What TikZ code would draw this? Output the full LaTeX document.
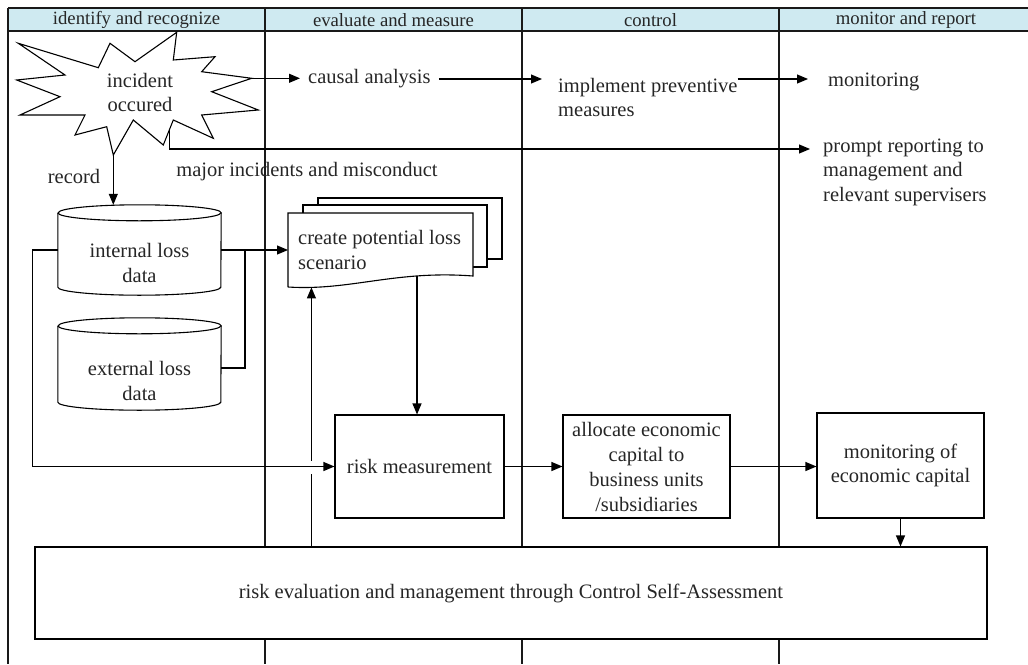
\documentclass[tikz,border=0pt]{standalone}
\usepackage{fontspec}
\setmainfont{Liberation Serif}
\usetikzlibrary{arrows.meta}
\definecolor{hdr}{HTML}{CFEAF1}
\definecolor{txtc}{HTML}{262626}
\begin{document}
\begin{tikzpicture}[x=1pt,y=-1pt,
  lane/.style={line width=1.7pt, black!90},
  box/.style={draw, line width=1.1pt, fill=white},
  arr/.style={line width=1.1pt, -{Triangle[length=11pt,width=9pt]}},
  ln/.style={line width=1.1pt},
  txt/.style={font=\fontsize{20.5}{24.5}\selectfont, text=txtc},
  hd/.style={font=\fontsize{18.7}{22}\selectfont, text=txtc}]
\useasboundingbox (0,0) rectangle (1028,664);
% header
\fill[hdr] (8,8) rectangle (1028,31);
\draw[lane] (8,8) -- (1028,8) (8,31) -- (1028,31);
\draw[lane] (8,8) -- (8,664) (265,8) -- (265,664) (522,8) -- (522,664) (779,8) -- (779,664);
\node[hd] (h1) at (136.5,20) {identify and recognize};
\node[hd] (h2) at (393.5,20) {evaluate and measure};
\node[hd] (h3) at (650.5,20) {control};
\node[hd] (h4) at (906,20) {monitor and report};
% bottom box
\node[box, txt, minimum width=952pt, minimum height=92pt] (csa) at (511,593) {risk evaluation and management through Control Self-Assessment};
% star
\draw[ln, fill=white] (18.3,43.3) -- (98.3,67.7) -- (110,43.3) -- (135,61.7) -- (176.7,32.3) -- (173.3,60) -- (215,56.7) -- (201.7,71.7) -- (251.7,78.3) -- (211.7,91.7) -- (258.3,110) -- (201.7,115) -- (213.3,138.3) -- (173.3,120) -- (163.3,145) -- (133.3,120) -- (113.3,155) -- (106.7,126.7) -- (75,135) -- (85,115) -- (20,115) -- (60,96.7) -- (16.7,80) -- (65,75) -- cycle;
\node[txt, align=center] (inc) at (140,92.5) {incident\\occured};
\coordinate (starR) at (251.7,78.3);
\coordinate (starB) at (113.3,155);
\coordinate (starC) at (169.3,130);
% top row texts
\node[txt, anchor=west, inner xsep=8pt] (ca) at (300,79) {causal analysis};
\node[txt, anchor=west, align=left, inner xsep=16pt] (ipm) at (542,97.5) {implement preventive\\measures};
\node[txt, anchor=west, inner xsep=20pt] (mon) at (808,82) {monitoring};
\node[txt, anchor=west, align=left, inner xsep=13pt] (prm) at (810,172) {prompt reporting to\\management and\\relevant supervisers};
\node[txt] (rec) at (74,176) {record};
\node[txt] (maj) at (307,172) {major incidents and misconduct};
% cylinders
\node[minimum width=163pt, minimum height=90pt, inner sep=0pt] (int) at (139.5,250) {};
\draw[ln, fill=white] ([yshift=-8pt]int.north west) -- ([yshift=8pt]int.south west)
  arc[start angle=180, end angle=360, x radius=81.5pt, y radius=8pt]
  -- ([yshift=-8pt]int.north east)
  arc[start angle=0, end angle=180, x radius=81.5pt, y radius=8pt];
\draw[ln] ([yshift=-8pt]int.north west) arc[start angle=180, end angle=360, x radius=81.5pt, y radius=8pt];
\node[txt, align=center] (intL) at (139.5,263) {internal loss\\data};
\node[minimum width=163pt, minimum height=92pt, inner sep=0pt] (ext) at (139.5,364) {};
\draw[ln, fill=white] ([yshift=-8pt]ext.north west) -- ([yshift=8pt]ext.south west)
  arc[start angle=180, end angle=360, x radius=81.5pt, y radius=8pt]
  -- ([yshift=-8pt]ext.north east)
  arc[start angle=0, end angle=180, x radius=81.5pt, y radius=8pt];
\draw[ln] ([yshift=-8pt]ext.north west) arc[start angle=180, end angle=360, x radius=81.5pt, y radius=8pt];
\node[txt, align=center] (extL) at (139.5,381) {external loss\\data};
% document stack
\draw[ln, fill=white] (318,198) rectangle (502,259);
\draw[ln, fill=white] (303,205) rectangle (487,267);
\draw[ln, fill=white] (288,287) -- (288,213) -- (473,213) -- (473,276)
  .. controls (395,270) and (350,291) .. (288,287)
  coordinate[pos=0.87] (docq) coordinate[pos=0.265] (docb);
\node[txt, anchor=west, inner xsep=10pt, align=left] (doc) at (288,250) {create potential loss\\scenario};
% boxes
\node[box, txt, minimum width=169pt, minimum height=103pt] (rm) at (419.5,466.5) {risk measurement};
\node[box, font=\fontsize{20.5}{25}\selectfont, text=txtc, align=center, inner ysep=1pt, minimum width=167pt, minimum height=103pt] (alc) at (646.5,466.5) {allocate economic\\capital to\\business units\\/subsidiaries};
\node[box, txt, align=center, minimum width=167pt, minimum height=105pt] (mec) at (900.5,465.5) {monitoring of\\economic capital};
% connectors
\draw[arr] (starR) -- (starR -| ca.west);
\draw[arr] (ca.east) -- (ca.east -| ipm.west);
\draw[arr] ([xshift=-16pt]ipm.east |- ca.east) -- (ca.east -| mon.west);
\draw[arr] (starC) |- ([yshift=23pt]prm.west);
\draw[arr] (starB) -- (starB |- int.north);
\coordinate (jn) at (245,250);
\draw[arr] (int.east) -- (doc.west);
\draw[ln] ([yshift=-4pt]ext.east) -| (jn);
\draw[arr] (int.west) -- ++(-25,0) |- (rm.west);
\draw[arr] (docb) -- (docb |- rm.north);
\draw[arr] (rm.east) -- (alc.west);
\draw[arr] (alc.east) -- (alc.east -| mec.west);
\draw[arr] (mec.south) -- (mec.south |- csa.north);
\draw[ln] (docq |- csa.north) -- ([yshift=-7pt]docq |- rm.west);
\draw[arr] ([yshift=6pt]docq |- rm.west) -- (docq);
\end{tikzpicture}
\end{document}
